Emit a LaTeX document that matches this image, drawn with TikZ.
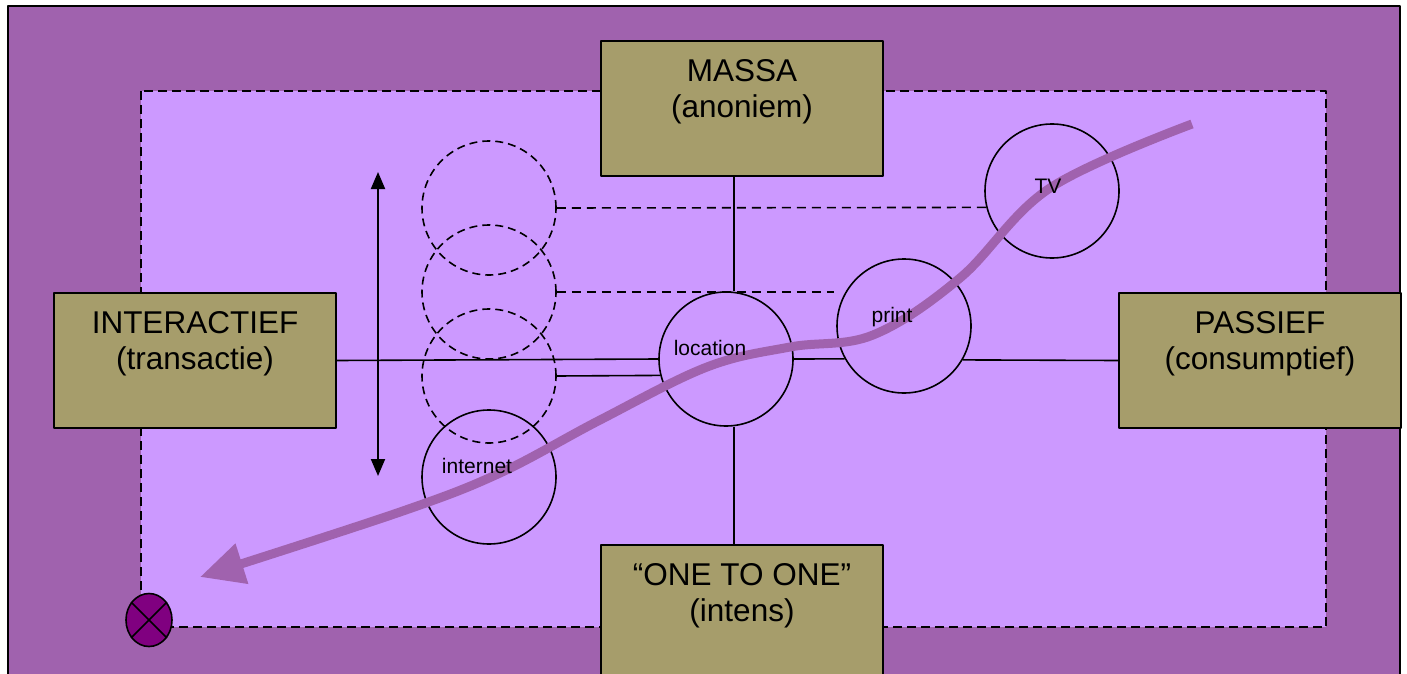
\documentclass[tikz,border=0pt]{standalone}
\usepackage{fontspec}
\setmainfont{Liberation Sans}
\usetikzlibrary{arrows.meta,calc,shapes.geometric}
\definecolor{outerpurple}{RGB}{160,98,174}
\definecolor{innerlilac}{RGB}{204,153,255}
\definecolor{olivebox}{RGB}{166,157,107}
\definecolor{markpurple}{RGB}{128,0,128}
\begin{document}
\begin{tikzpicture}[x=1pt,y=-1pt,line join=round,
  box/.style={draw=black,line width=2pt,fill=olivebox,minimum width=282pt,minimum height=135pt,inner sep=0pt,anchor=north west},
  medium/.style={circle,draw=black,line width=1.6pt,minimum size=134pt,inner sep=0pt},
  ghost/.style={medium,dash pattern=on 8pt off 5pt},
  conn/.style={draw=black,line width=1.6pt},
  dconn/.style={conn,dash pattern=on 9pt off 6pt},
  bigtxt/.style={anchor=north,align=center,inner sep=0pt,font=\fontsize{31.5}{36}\selectfont},
  smalltxt/.style={anchor=base,inner sep=0pt,font=\fontsize{21}{24}\selectfont}]
\fill[white] (0,0) rectangle (1407,674);
\useasboundingbox (0,0) rectangle (1407,674);
% frames
\filldraw[fill=outerpurple,draw=black,line width=2.5pt] (8,6) rectangle (1400,710);
\filldraw[fill=innerlilac,draw=black,line width=2pt,dash pattern=on 9pt off 5pt] (141,91) rectangle (1326,627);
% circles
\node[medium] (loc) at (726,359) {};
\node[medium] (print) at (904,326) {};
\node[medium] (tv) at (1052,191) {};
\node[medium] (inet) at (489,477) {};
\node[ghost] (d1) at (489,208) {};
\node[ghost] (d2) at (489,292) {};
\node[ghost] (d3) at (489,376) {};
% boxes
\node[box] (massa) at (600,40) {};
\node[box] (inter) at (53,292) {};
\node[box] (pass) at (1118,292) {};
\node[box] (one) at (600,544) {};
% connectors
\coordinate (vx) at (734,0);
\coordinate (d2end) at (834,292);
\draw[conn] (massa.south -| vx) -- (loc.north -| vx);
\draw[conn] (loc.south -| vx) -- (one.north -| vx);
\draw[conn] (inter.east) -- (loc.west);
\draw[conn] (loc.east) -- (print.209.5);
\draw[conn] (print.330.5) -- (pass.west);
\draw[conn] (d3.east) -- (loc.194.7);
\draw[dconn] (d1.east) -- (tv.194.7);
\draw[dconn] (d2.east) -- (d2end);
% double arrow
\coordinate (atop) at (378,172);
\coordinate (abot) at (378,476);
\draw[line width=2pt,{Triangle[length=17pt,width=14pt]}-{Triangle[length=17pt,width=14pt]}] (atop) -- (abot);
% thick curve
\draw[outerpurple,line width=9pt,-{Triangle[length=44pt,width=40pt]}]
  plot[smooth,tension=0.6] coordinates {(1192,124) (1050,188) (960,278) (873,335) (790,347) (707,367) (600,420) (500,473) (400,512) (200,577)};
% texts
\node[bigtxt] (massat) at ($(massa.north)+(0,19)$) {MASSA\\(anoniem)};
\node[bigtxt] (intert) at ($(inter.north)+(0,19)$) {INTERACTIEF\\(transactie)};
\node[bigtxt] (passt) at ($(pass.north)+(0,19)$) {PASSIEF\\(consumptief)};
\node[bigtxt] (onet) at ($(one.north)+(0,19)$) {“ONE TO ONE”\\(intens)};
\node[smalltxt] (loct) at (710,355) {location};
\node[smalltxt] (printt) at (892,322) {print};
\node[smalltxt] (tvt) at (1048,193) {TV};
\node[smalltxt] (inett) at (477,473) {internet};
% marker
\node[ellipse,draw=black,line width=1.6pt,fill=markpurple,minimum width=46pt,minimum height=53pt,inner sep=0pt] (mark) at (149,620) {};
\draw[conn] (mark.45) -- (mark.225);
\draw[conn] (mark.135) -- (mark.315);
\end{tikzpicture}
\end{document}
